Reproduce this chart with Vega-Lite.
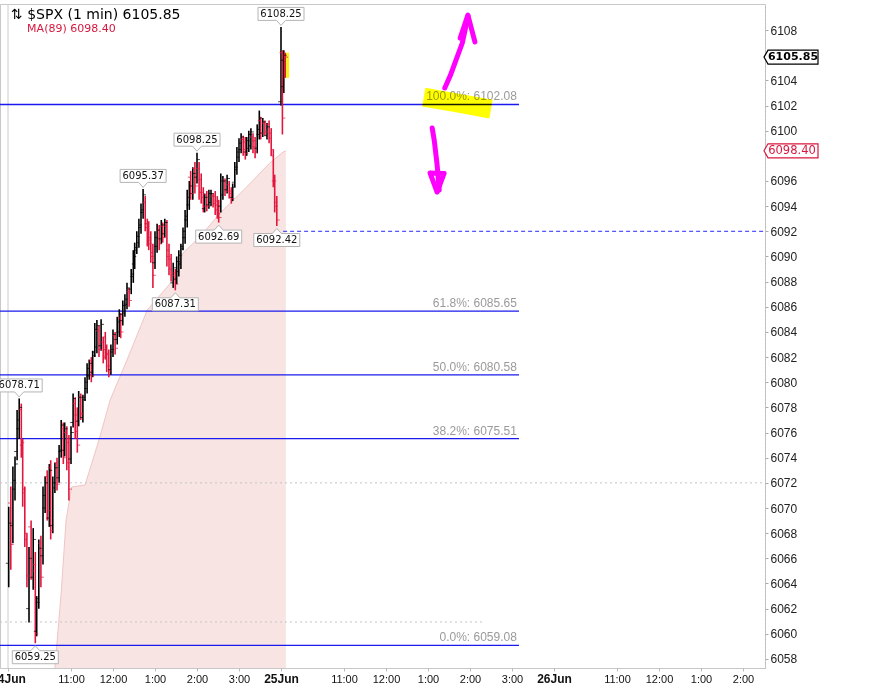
{
  "$schema": "https://vega.github.io/schema/vega-lite/v6.json",
  "description": "$SPX 1-minute bars, 24-25 Jun, with MA(89) and Fibonacci retracement levels",
  "width": 765,
  "height": 664,
  "autosize": {"type": "none"},
  "padding": {"left": 0, "top": 4, "right": 106, "bottom": 19},
  "background": "#ffffff",
  "config": {
    "view": {"stroke": "#c8c8c8"},
    "axis": {"labelFont": "Liberation Sans", "grid": false}
  },
  "resolve": {"axis": {"x": "independent", "y": "independent"}},
  "title": {
    "text": "⇅ $SPX (1 min) 6105.85",
    "subtitle": "\u2800\u2800MA(89) 6098.40",
    "anchor": "start",
    "frame": "group",
    "orient": "top",
    "offset": -30,
    "dx": 11,
    "font": "DejaVu Sans",
    "fontSize": 14,
    "fontWeight": "normal",
    "color": "#000000",
    "subtitleFont": "DejaVu Sans",
    "subtitleFontSize": 11,
    "subtitleColor": "#d9173f",
    "subtitlePadding": 1
  },
  "datasets": {
    "bars": [
      {"t": 1, "o": 6065.6, "h": 6070.1, "l": 6063.7, "c": 6068.8},
      {"t": 4, "o": 6070.4, "h": 6071.7, "l": 6065.1, "c": 6067.1},
      {"t": 7, "o": 6068.6, "h": 6073.3, "l": 6067.2, "c": 6072.2},
      {"t": 10, "o": 6071.5, "h": 6074.1, "l": 6070.6, "c": 6073.5},
      {"t": 13, "o": 6074.5, "h": 6077.8, "l": 6073.8, "c": 6077.0},
      {"t": 16, "o": 6076.3, "h": 6078.71, "l": 6075.5, "c": 6078.0},
      {"t": 19, "o": 6077.8, "h": 6078.3, "l": 6074.0, "c": 6075.2},
      {"t": 21, "o": 6075.0, "h": 6075.5, "l": 6070.1, "c": 6071.5},
      {"t": 24, "o": 6071.2, "h": 6071.7, "l": 6066.9, "c": 6068.0},
      {"t": 27, "o": 6067.5, "h": 6068.0, "l": 6063.7, "c": 6064.6},
      {"t": 30, "o": 6062.0, "h": 6066.9, "l": 6060.9, "c": 6066.0},
      {"t": 33, "o": 6068.5, "h": 6069.0, "l": 6064.3, "c": 6065.0},
      {"t": 36, "o": 6064.5, "h": 6068.4, "l": 6063.5, "c": 6067.5},
      {"t": 39, "o": 6065.5, "h": 6066.5, "l": 6059.25, "c": 6060.0},
      {"t": 41, "o": 6060.2, "h": 6063.0, "l": 6059.8, "c": 6062.5},
      {"t": 44, "o": 6062.8, "h": 6067.5, "l": 6062.0, "c": 6066.8},
      {"t": 47, "o": 6067.2, "h": 6067.8, "l": 6063.7, "c": 6064.5},
      {"t": 50, "o": 6066.2, "h": 6071.7, "l": 6065.5, "c": 6071.0},
      {"t": 53, "o": 6070.0, "h": 6072.5, "l": 6069.6, "c": 6072.0},
      {"t": 56, "o": 6072.5, "h": 6073.0, "l": 6069.0, "c": 6069.8},
      {"t": 59, "o": 6069.2, "h": 6073.5, "l": 6068.5, "c": 6073.0},
      {"t": 61, "o": 6073.2, "h": 6073.8, "l": 6067.5, "c": 6068.2},
      {"t": 64, "o": 6068.6, "h": 6072.5, "l": 6068.0, "c": 6072.0},
      {"t": 67, "o": 6071.6, "h": 6073.6, "l": 6071.2, "c": 6073.2},
      {"t": 70, "o": 6073.6, "h": 6074.0, "l": 6071.4, "c": 6071.9},
      {"t": 73, "o": 6072.4, "h": 6075.0, "l": 6072.0, "c": 6074.6},
      {"t": 76, "o": 6074.5, "h": 6077.0, "l": 6074.0, "c": 6076.6},
      {"t": 79, "o": 6076.3, "h": 6076.8, "l": 6073.5, "c": 6074.0},
      {"t": 81, "o": 6074.6, "h": 6076.8, "l": 6074.1, "c": 6076.3},
      {"t": 84, "o": 6076.0, "h": 6076.5, "l": 6073.0, "c": 6073.6},
      {"t": 87, "o": 6075.2, "h": 6075.8, "l": 6070.6, "c": 6071.5},
      {"t": 90, "o": 6073.9, "h": 6076.5, "l": 6073.5, "c": 6076.0},
      {"t": 93, "o": 6076.8, "h": 6079.1, "l": 6076.4, "c": 6078.7},
      {"t": 96, "o": 6078.3, "h": 6078.8, "l": 6075.5, "c": 6076.1},
      {"t": 99, "o": 6077.4, "h": 6078.0, "l": 6074.4, "c": 6075.0},
      {"t": 101, "o": 6076.9, "h": 6079.3, "l": 6076.5, "c": 6078.8},
      {"t": 104, "o": 6078.8, "h": 6079.1, "l": 6077.0, "c": 6077.5},
      {"t": 107, "o": 6077.2, "h": 6079.0, "l": 6076.8, "c": 6078.6},
      {"t": 110, "o": 6078.8, "h": 6080.4, "l": 6078.5, "c": 6080.0},
      {"t": 113, "o": 6079.5, "h": 6081.5, "l": 6079.1, "c": 6081.1},
      {"t": 116, "o": 6080.5, "h": 6081.8, "l": 6080.2, "c": 6081.5},
      {"t": 119, "o": 6081.7, "h": 6082.0, "l": 6080.0, "c": 6080.5},
      {"t": 121, "o": 6080.8, "h": 6082.5, "l": 6080.4, "c": 6082.1},
      {"t": 124, "o": 6082.4, "h": 6084.7, "l": 6082.0, "c": 6084.2},
      {"t": 127, "o": 6082.8, "h": 6084.95, "l": 6082.3, "c": 6084.5},
      {"t": 130, "o": 6084.1, "h": 6084.5, "l": 6082.0, "c": 6082.6},
      {"t": 133, "o": 6082.9, "h": 6085.0, "l": 6082.5, "c": 6084.6},
      {"t": 136, "o": 6083.2, "h": 6083.6, "l": 6081.5, "c": 6082.0},
      {"t": 139, "o": 6083.6, "h": 6084.0, "l": 6081.8, "c": 6082.3},
      {"t": 141, "o": 6082.6, "h": 6083.0, "l": 6080.8, "c": 6081.3},
      {"t": 144, "o": 6082.2, "h": 6082.6, "l": 6080.4, "c": 6080.9},
      {"t": 147, "o": 6081.0, "h": 6083.0, "l": 6080.6, "c": 6082.6},
      {"t": 150, "o": 6082.4, "h": 6084.2, "l": 6082.0, "c": 6083.8},
      {"t": 153, "o": 6083.7, "h": 6084.0, "l": 6082.2, "c": 6082.7},
      {"t": 156, "o": 6083.4, "h": 6085.2, "l": 6083.0, "c": 6084.8},
      {"t": 159, "o": 6084.0, "h": 6085.8, "l": 6083.6, "c": 6085.4},
      {"t": 161, "o": 6085.1, "h": 6085.5, "l": 6083.5, "c": 6084.0},
      {"t": 164, "o": 6084.9, "h": 6086.5, "l": 6084.5, "c": 6086.1},
      {"t": 167, "o": 6085.5, "h": 6087.0, "l": 6085.2, "c": 6086.6},
      {"t": 170, "o": 6086.2, "h": 6087.9, "l": 6085.8, "c": 6087.5},
      {"t": 173, "o": 6087.2, "h": 6087.5, "l": 6086.0, "c": 6086.5},
      {"t": 176, "o": 6087.4, "h": 6089.0, "l": 6087.0, "c": 6088.6},
      {"t": 179, "o": 6088.4, "h": 6090.5, "l": 6087.9, "c": 6090.0},
      {"t": 181, "o": 6089.4, "h": 6091.1, "l": 6089.0, "c": 6090.7},
      {"t": 184, "o": 6090.5, "h": 6092.0, "l": 6090.2, "c": 6091.6},
      {"t": 187, "o": 6091.1, "h": 6093.0, "l": 6090.7, "c": 6092.5},
      {"t": 190, "o": 6092.3, "h": 6094.2, "l": 6091.8, "c": 6093.7},
      {"t": 193, "o": 6093.5, "h": 6095.37, "l": 6093.0, "c": 6094.9},
      {"t": 196, "o": 6094.3, "h": 6094.8, "l": 6092.0, "c": 6092.6},
      {"t": 199, "o": 6092.6, "h": 6093.0, "l": 6090.8, "c": 6091.3},
      {"t": 201, "o": 6092.3, "h": 6092.8, "l": 6090.5, "c": 6091.0},
      {"t": 204, "o": 6091.5, "h": 6092.0, "l": 6089.5, "c": 6090.0},
      {"t": 207, "o": 6090.3, "h": 6091.0, "l": 6087.5, "c": 6088.5},
      {"t": 210, "o": 6089.5, "h": 6092.0, "l": 6089.0, "c": 6091.5},
      {"t": 213, "o": 6090.8, "h": 6092.6, "l": 6090.3, "c": 6092.1},
      {"t": 216, "o": 6092.1, "h": 6092.5, "l": 6090.5, "c": 6091.0},
      {"t": 219, "o": 6091.4, "h": 6092.9, "l": 6091.0, "c": 6092.5},
      {"t": 221, "o": 6092.4, "h": 6092.7, "l": 6091.1, "c": 6091.5},
      {"t": 224, "o": 6091.8, "h": 6093.0, "l": 6091.5, "c": 6092.7},
      {"t": 227, "o": 6092.4, "h": 6092.9, "l": 6089.2, "c": 6090.0},
      {"t": 230, "o": 6090.5, "h": 6091.0, "l": 6088.5, "c": 6089.0},
      {"t": 233, "o": 6089.8, "h": 6090.2, "l": 6088.0, "c": 6088.5},
      {"t": 236, "o": 6087.9, "h": 6089.5, "l": 6087.5, "c": 6089.1},
      {"t": 239, "o": 6088.7, "h": 6089.0, "l": 6087.31, "c": 6087.8},
      {"t": 241, "o": 6088.2, "h": 6090.0, "l": 6087.8, "c": 6089.6},
      {"t": 244, "o": 6088.8, "h": 6090.5, "l": 6088.4, "c": 6090.1},
      {"t": 247, "o": 6089.4, "h": 6091.0, "l": 6089.0, "c": 6090.6},
      {"t": 250, "o": 6090.8, "h": 6092.3, "l": 6090.5, "c": 6092.0},
      {"t": 253, "o": 6091.5, "h": 6093.7, "l": 6091.0, "c": 6093.2},
      {"t": 256, "o": 6092.9, "h": 6095.3, "l": 6092.3, "c": 6094.7},
      {"t": 259, "o": 6094.1, "h": 6096.0, "l": 6093.7, "c": 6095.6},
      {"t": 261, "o": 6096.3, "h": 6096.8, "l": 6094.5, "c": 6095.0},
      {"t": 264, "o": 6095.0, "h": 6097.1, "l": 6094.5, "c": 6096.6},
      {"t": 267, "o": 6097.0, "h": 6097.5, "l": 6095.0, "c": 6095.6},
      {"t": 270, "o": 6096.3, "h": 6098.25, "l": 6095.8, "c": 6097.7},
      {"t": 273, "o": 6097.0, "h": 6097.5, "l": 6094.5, "c": 6095.1},
      {"t": 276, "o": 6096.1, "h": 6096.6, "l": 6094.2, "c": 6094.7},
      {"t": 279, "o": 6095.1, "h": 6095.5, "l": 6093.5, "c": 6094.0},
      {"t": 281, "o": 6093.8, "h": 6095.0, "l": 6093.5, "c": 6094.7},
      {"t": 284, "o": 6094.9, "h": 6095.2, "l": 6093.6, "c": 6094.0},
      {"t": 287, "o": 6094.1, "h": 6095.3, "l": 6093.8, "c": 6095.0},
      {"t": 290, "o": 6094.3, "h": 6095.3, "l": 6094.0, "c": 6095.0},
      {"t": 293, "o": 6094.8, "h": 6095.0, "l": 6093.9, "c": 6094.2},
      {"t": 296, "o": 6094.8, "h": 6095.2, "l": 6093.3, "c": 6093.7},
      {"t": 299, "o": 6094.4, "h": 6094.8, "l": 6093.0, "c": 6093.4},
      {"t": 301, "o": 6094.1, "h": 6094.5, "l": 6092.69, "c": 6093.1},
      {"t": 304, "o": 6094.0, "h": 6096.6, "l": 6093.5, "c": 6096.0},
      {"t": 307, "o": 6094.9, "h": 6096.4, "l": 6094.5, "c": 6096.0},
      {"t": 310, "o": 6096.0, "h": 6096.2, "l": 6094.8, "c": 6095.2},
      {"t": 313, "o": 6095.3, "h": 6096.5, "l": 6095.0, "c": 6096.2},
      {"t": 316, "o": 6095.7, "h": 6096.0, "l": 6094.6, "c": 6095.0},
      {"t": 319, "o": 6095.2, "h": 6095.5, "l": 6094.2, "c": 6094.6},
      {"t": 321, "o": 6094.7, "h": 6095.8, "l": 6094.4, "c": 6095.5},
      {"t": 324, "o": 6095.9, "h": 6097.5, "l": 6095.5, "c": 6097.1},
      {"t": 327, "o": 6096.9, "h": 6098.7, "l": 6096.5, "c": 6098.3},
      {"t": 330, "o": 6097.9, "h": 6099.4, "l": 6097.5, "c": 6099.0},
      {"t": 333, "o": 6098.5, "h": 6099.8, "l": 6098.2, "c": 6099.5},
      {"t": 336, "o": 6099.3, "h": 6099.6, "l": 6098.0, "c": 6098.5},
      {"t": 339, "o": 6099.1, "h": 6099.5, "l": 6097.7, "c": 6098.2},
      {"t": 341, "o": 6098.3, "h": 6099.5, "l": 6098.0, "c": 6099.2},
      {"t": 344, "o": 6098.6, "h": 6100.0, "l": 6098.3, "c": 6099.7},
      {"t": 347, "o": 6098.8, "h": 6100.2, "l": 6098.5, "c": 6099.9},
      {"t": 350, "o": 6099.5, "h": 6099.8, "l": 6098.2, "c": 6098.7},
      {"t": 353, "o": 6099.2, "h": 6099.5, "l": 6097.8, "c": 6098.3},
      {"t": 356, "o": 6098.6, "h": 6100.5, "l": 6098.2, "c": 6100.1},
      {"t": 359, "o": 6099.7, "h": 6101.6, "l": 6099.3, "c": 6101.0},
      {"t": 361, "o": 6100.8, "h": 6101.1, "l": 6099.3, "c": 6099.8},
      {"t": 364, "o": 6099.8, "h": 6101.0, "l": 6099.5, "c": 6100.7},
      {"t": 367, "o": 6100.6, "h": 6100.8, "l": 6099.6, "c": 6099.9},
      {"t": 370, "o": 6099.6, "h": 6100.6, "l": 6099.3, "c": 6100.3},
      {"t": 373, "o": 6100.5, "h": 6100.8, "l": 6099.0, "c": 6099.4},
      {"t": 376, "o": 6099.8, "h": 6100.2, "l": 6098.0, "c": 6098.5},
      {"t": 379, "o": 6098.0, "h": 6098.5, "l": 6095.5, "c": 6096.0},
      {"t": 381, "o": 6096.0, "h": 6096.5, "l": 6093.5, "c": 6094.0},
      {"t": 384, "o": 6094.3, "h": 6094.8, "l": 6092.42, "c": 6092.9},
      {"t": 390, "o": 6102.3, "h": 6108.25, "l": 6102.0, "c": 6105.6},
      {"t": 392, "o": 6106.2, "h": 6106.4, "l": 6099.7, "c": 6101.0},
      {"t": 394, "o": 6103.5, "h": 6106.4, "l": 6103.0, "c": 6106.0},
      {"t": 396, "o": 6106.0, "h": 6106.2, "l": 6104.2, "c": 6105.85}
    ],
    "ma": [
      {"t": 64, "v": 6056.0},
      {"t": 67, "v": 6057.3},
      {"t": 76, "v": 6063.25},
      {"t": 83, "v": 6069.05},
      {"t": 91, "v": 6071.67},
      {"t": 110, "v": 6071.83},
      {"t": 130, "v": 6075.41},
      {"t": 146, "v": 6078.59},
      {"t": 170, "v": 6081.77},
      {"t": 199, "v": 6085.74},
      {"t": 236, "v": 6088.13},
      {"t": 250, "v": 6090.27},
      {"t": 274, "v": 6091.55},
      {"t": 303, "v": 6093.45},
      {"t": 341, "v": 6095.52},
      {"t": 374, "v": 6097.43},
      {"t": 393, "v": 6098.3},
      {"t": 397, "v": 6098.4}
    ],
    "sessions": [{"t": 0, "day": "24Jun"}],
    "refLevels": [
      {"p": 6072.0, "t1": -11.43, "t2": 1081.43},
      {"p": 6060.94, "t1": -11.43, "t2": 681}
    ],
    "trendline": [{"p": 6092.0, "t1": 393, "t2": 1081.43}],
    "fib": [
      {"level": "100.0%", "p": 6102.08},
      {"level": "61.8%", "p": 6085.65},
      {"level": "50.0%", "p": 6080.58},
      {"level": "38.2%", "p": 6075.51},
      {"level": "0.0%", "p": 6059.08}
    ],
    "extremes": [
      {"t": 16, "p": 6078.71, "side": "high"},
      {"t": 39, "p": 6059.25, "side": "low"},
      {"t": 193, "p": 6095.37, "side": "high"},
      {"t": 239, "p": 6087.31, "side": "low"},
      {"t": 270, "p": 6098.25, "side": "high"},
      {"t": 301, "p": 6092.69, "side": "low"},
      {"t": 384, "p": 6092.42, "side": "low"},
      {"t": 390, "p": 6108.25, "side": "high"}
    ],
    "lastValues": [
      {"series": "SPX", "p": 6105.85},
      {"series": "MA", "p": 6098.4}
    ],
    "highlight": [
      {"i": 0, "t": 594, "p": 6102.67},
      {"i": 1, "t": 642, "p": 6102.2},
      {"i": 2, "t": 690, "p": 6101.72}
    ],
    "arrows": [
      {"part": "upShaft", "i": 0, "t": 624, "p": 6103.39},
      {"part": "upShaft", "i": 1, "t": 632, "p": 6104.4},
      {"part": "upShaft", "i": 2, "t": 640, "p": 6105.6},
      {"part": "upShaft", "i": 3, "t": 649, "p": 6106.97},
      {"part": "upShaft", "i": 4, "t": 653, "p": 6108.0},
      {"part": "upShaft", "i": 5, "t": 657, "p": 6109.11},
      {"part": "upHead", "i": 0, "t": 646, "p": 6107.36},
      {"part": "upHead", "i": 1, "t": 657, "p": 6109.19},
      {"part": "upHead", "i": 2, "t": 667, "p": 6107.05},
      {"part": "downShaft", "i": 0, "t": 606, "p": 6100.21},
      {"part": "downShaft", "i": 1, "t": 609, "p": 6099.2},
      {"part": "downShaft", "i": 2, "t": 613, "p": 6097.3},
      {"part": "downShaft", "i": 3, "t": 616, "p": 6095.28},
      {"part": "downHead", "i": 0, "t": 603, "p": 6096.63},
      {"part": "downHead", "i": 1, "t": 613, "p": 6095.12},
      {"part": "downHead", "i": 2, "t": 623, "p": 6096.6},
      {"part": "downHead", "i": 3, "t": 603, "p": 6096.63}
    ]
  },
  "layer": [
    {
      "data": {"name": "ma"},
      "mark": {"type": "area", "color": "#f9e4e4", "clip": true},
      "encoding": {
        "x": {
          "field": "t",
          "type": "quantitative",
          "scale": {"domain": [-11.43, 1081.43], "zero": false, "nice": false},
          "axis": {
            "orient": "bottom",
            "values": [0, 90, 150, 210, 270, 330, 390, 480, 540, 600, 660, 720, 780, 870, 930, 990, 1050],
            "labelExpr": "datum.value % 390 === 0 ? ['24Jun','25Jun','26Jun'][datum.value / 390] : ((floor((570 + datum.value % 390) / 60) - 1) % 12 + 1) + ':00'",
            "labelFontWeight": {"condition": {"test": "datum.value % 390 === 0", "value": "bold"}, "value": "normal"},
            "labelFontSize": {"condition": {"test": "datum.value % 390 === 0", "value": 12}, "value": 11},
            "labelColor": "#111111",
            "labelFlush": false,
            "labelOverlap": false,
            "labelPadding": 2,
            "tickSize": 3,
            "tickColor": "#bbbbbb",
            "domain": false,
            "grid": false,
            "title": null
          }
        },
        "y": {
          "field": "v",
          "type": "quantitative",
          "scale": {"domain": [6057.28, 6110.07], "zero": false, "nice": false},
          "axis": {
            "orient": "right",
            "values": [6058, 6060, 6062, 6064, 6066, 6068, 6070, 6072, 6074, 6076, 6078, 6080, 6082, 6084, 6086, 6088, 6090, 6092, 6094, 6096, 6100, 6102, 6104, 6108],
            "format": "d",
            "labelFontSize": 12,
            "labelColor": "#222222",
            "labelPadding": 2,
            "labelOverlap": false,
            "labelFlush": false,
            "tickSize": 3,
            "tickColor": "#aaaaaa",
            "domain": true,
            "domainColor": "#bbbbbb",
            "domainDash": [2, 2],
            "grid": false,
            "title": null
          }
        },
        "y2": {"datum": 6057.28}
      }
    },
    {
      "data": {"name": "ma"},
      "mark": {"type": "line", "color": "#f1c4c4", "strokeWidth": 1, "clip": true},
      "encoding": {
        "x": {"field": "t", "type": "quantitative", "axis": null},
        "y": {"field": "v", "type": "quantitative", "axis": null}
      }
    },
    {
      "data": {"name": "sessions"},
      "mark": {"type": "rule", "color": "#cccccc", "strokeWidth": 1},
      "encoding": {
        "x": {"field": "t", "type": "quantitative", "axis": null}
      }
    },
    {
      "data": {"name": "refLevels"},
      "mark": {"type": "rule", "color": "#c4c4c4", "strokeWidth": 1, "strokeDash": [2, 3]},
      "encoding": {
        "x": {"field": "t1", "type": "quantitative", "axis": null},
        "x2": {"field": "t2"},
        "y": {"field": "p", "type": "quantitative", "axis": null}
      }
    },
    {
      "data": {"name": "fib"},
      "mark": {"type": "rule", "color": "#1a1aee", "strokeWidth": 1.3},
      "encoding": {
        "x": {"datum": -11.43, "type": "quantitative", "axis": null},
        "x2": {"datum": 730},
        "y": {"field": "p", "type": "quantitative", "axis": null}
      }
    },
    {
      "data": {"name": "fib"},
      "transform": [{"calculate": "datum.level + ': ' + format(datum.p, '.2f')", "as": "label"}],
      "mark": {"type": "text", "align": "right", "baseline": "alphabetic", "dy": -4, "font": "Liberation Sans", "fontSize": 12, "color": "#9a9a9a"},
      "encoding": {
        "x": {"datum": 727, "type": "quantitative", "axis": null},
        "y": {"field": "p", "type": "quantitative", "axis": null},
        "text": {"field": "label", "type": "nominal"}
      }
    },
    {
      "data": {"name": "highlight"},
      "mark": {"type": "line", "color": "#ffff00", "strokeWidth": 19, "strokeCap": "butt", "blend": "multiply"},
      "encoding": {
        "x": {"field": "t", "type": "quantitative", "axis": null},
        "y": {"field": "p", "type": "quantitative", "axis": null},
        "order": {"field": "i", "type": "quantitative"}
      }
    },
    {
      "data": {"name": "trendline"},
      "mark": {"type": "rule", "color": "#2a2aff", "strokeWidth": 1, "strokeDash": [4, 3]},
      "encoding": {
        "x": {"field": "t1", "type": "quantitative", "axis": null},
        "x2": {"field": "t2"},
        "y": {"field": "p", "type": "quantitative", "axis": null}
      }
    },
    {
      "data": {"name": "bars"},
      "transform": [{"filter": "datum.t === 396"}],
      "mark": {"type": "rule", "color": "#ffee22", "strokeWidth": 6, "xOffset": 1},
      "encoding": {
        "x": {"field": "t", "type": "quantitative", "axis": null},
        "y": {"field": "h", "type": "quantitative", "axis": null},
        "y2": {"field": "l"}
      }
    },
    {
      "data": {"name": "bars"},
      "mark": {"type": "rule", "strokeWidth": 1.6},
      "encoding": {
        "x": {"field": "t", "type": "quantitative", "axis": null},
        "y": {"field": "h", "type": "quantitative", "axis": null},
        "y2": {"field": "l"},
        "color": {"condition": {"test": "datum.c >= datum.o", "value": "#000000"}, "value": "#e3173e"}
      }
    },
    {
      "data": {"name": "bars"},
      "mark": {"type": "tick", "orient": "horizontal", "size": 3, "thickness": 1, "xOffset": -1.4},
      "encoding": {
        "x": {"field": "t", "type": "quantitative", "axis": null},
        "y": {"field": "o", "type": "quantitative", "axis": null},
        "color": {"condition": {"test": "datum.c >= datum.o", "value": "#000000"}, "value": "#e3173e"}
      }
    },
    {
      "data": {"name": "bars"},
      "mark": {"type": "tick", "orient": "horizontal", "size": 3, "thickness": 1, "xOffset": 1.4},
      "encoding": {
        "x": {"field": "t", "type": "quantitative", "axis": null},
        "y": {"field": "c", "type": "quantitative", "axis": null},
        "color": {"condition": {"test": "datum.c >= datum.o", "value": "#000000"}, "value": "#e3173e"}
      }
    },
    {
      "data": {"name": "extremes"},
      "transform": [{"filter": "datum.side === 'high'"}],
      "mark": {"type": "point", "shape": "M-2.3,-0.65H2.3V0.65H0.45L0,1.15L-0.45,0.65H-2.3Z", "size": 400, "filled": true, "fill": "#ffffff", "stroke": "#b4b4b4", "strokeWidth": 1, "opacity": 1, "yOffset": -13},
      "encoding": {
        "x": {"field": "t", "type": "quantitative", "axis": null},
        "y": {"field": "p", "type": "quantitative", "axis": null}
      }
    },
    {
      "data": {"name": "extremes"},
      "transform": [{"filter": "datum.side === 'high'"}],
      "mark": {"type": "text", "align": "center", "baseline": "middle", "font": "DejaVu Sans", "fontSize": 10, "color": "#111111", "yOffset": -13},
      "encoding": {
        "x": {"field": "t", "type": "quantitative", "axis": null},
        "y": {"field": "p", "type": "quantitative", "axis": null},
        "text": {"field": "p", "type": "quantitative", "format": ".2f"}
      }
    },
    {
      "data": {"name": "extremes"},
      "transform": [{"filter": "datum.side === 'low'"}],
      "mark": {"type": "point", "shape": "M-2.3,0.65H2.3V-0.65H0.45L0,-1.15L-0.45,-0.65H-2.3Z", "size": 400, "filled": true, "fill": "#ffffff", "stroke": "#b4b4b4", "strokeWidth": 1, "opacity": 1, "yOffset": 14},
      "encoding": {
        "x": {"field": "t", "type": "quantitative", "axis": null},
        "y": {"field": "p", "type": "quantitative", "axis": null}
      }
    },
    {
      "data": {"name": "extremes"},
      "transform": [{"filter": "datum.side === 'low'"}],
      "mark": {"type": "text", "align": "center", "baseline": "middle", "font": "DejaVu Sans", "fontSize": 10, "color": "#111111", "yOffset": 14},
      "encoding": {
        "x": {"field": "t", "type": "quantitative", "axis": null},
        "y": {"field": "p", "type": "quantitative", "axis": null},
        "text": {"field": "p", "type": "quantitative", "format": ".2f"}
      }
    },
    {
      "data": {"name": "arrows"},
      "mark": {"type": "line", "color": "#ff00ff", "strokeWidth": 5, "strokeCap": "round", "strokeJoin": "round"},
      "encoding": {
        "x": {"field": "t", "type": "quantitative", "axis": null},
        "y": {"field": "p", "type": "quantitative", "axis": null},
        "detail": {"field": "part", "type": "nominal"},
        "order": {"field": "i", "type": "quantitative"}
      }
    },
    {
      "data": {"name": "lastValues"},
      "mark": {"type": "point", "shape": "M-2.4,-0.7H2.6V0.7H-2.4L-2.8,0Z", "size": 400, "filled": true, "fill": "#ffffff", "strokeWidth": 1.2, "opacity": 1, "xOffset": 27, "clip": false},
      "encoding": {
        "x": {"datum": 1081.43, "type": "quantitative", "axis": null},
        "y": {"field": "p", "type": "quantitative", "axis": null},
        "stroke": {"condition": {"test": "datum.series === 'MA'", "value": "#d9173f"}, "value": "#000000"}
      }
    },
    {
      "data": {"name": "lastValues"},
      "transform": [{"filter": "datum.series === 'SPX'"}],
      "mark": {"type": "text", "align": "center", "baseline": "middle", "font": "DejaVu Sans", "fontSize": 11, "fontWeight": "bold", "color": "#000000", "xOffset": 28},
      "encoding": {
        "x": {"datum": 1081.43, "type": "quantitative", "axis": null},
        "y": {"field": "p", "type": "quantitative", "axis": null},
        "text": {"field": "p", "type": "quantitative", "format": ".2f"}
      }
    },
    {
      "data": {"name": "lastValues"},
      "transform": [{"filter": "datum.series === 'MA'"}],
      "mark": {"type": "text", "align": "center", "baseline": "middle", "font": "DejaVu Sans", "fontSize": 11.5, "color": "#d9173f", "xOffset": 27},
      "encoding": {
        "x": {"datum": 1081.43, "type": "quantitative", "axis": null},
        "y": {"field": "p", "type": "quantitative", "axis": null},
        "text": {"field": "p", "type": "quantitative", "format": ".2f"}
      }
    }
  ]
}
